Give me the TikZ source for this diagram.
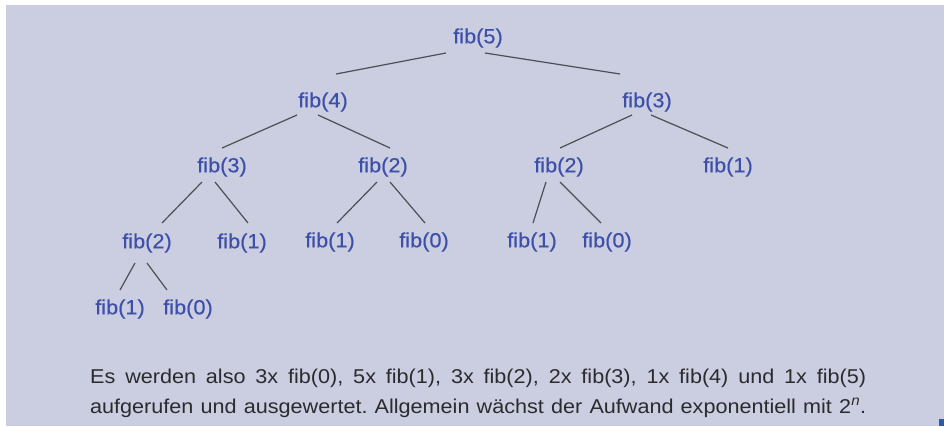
\documentclass[tikz,border=0pt]{standalone}
\usepackage{fontspec}
\setmainfont{Liberation Sans}
\newfontfamily\treefont[FakeStretch=1.06,FakeBold=0.4]{Liberation Sans}
\newfontfamily\bodyfont[FakeStretch=1.08]{Liberation Sans}
\definecolor{bgc}{HTML}{CBCEE1}
\definecolor{fibblue}{HTML}{3D4FA8}
\definecolor{edgegray}{HTML}{4E4E55}
\definecolor{bodytext}{HTML}{2B2B2E}
\definecolor{markblue}{HTML}{2E5BA8}
\begin{document}
\frenchspacing
\begin{tikzpicture}[x=1pt,y=-1pt,
  fib/.style={font=\treefont\fontsize{20.5}{23}\selectfont, text=fibblue, inner sep=0pt},
  edge/.style={draw=edgegray, line width=1.2pt},
  body/.style={font=\bodyfont\fontsize{20}{23}\selectfont, text=bodytext, inner sep=0pt, anchor=base west}]
\useasboundingbox (0,0) rectangle (944,426);
\fill[white] (0,0) rectangle (944,426);
\fill[bgc] (6,5) rectangle (944,426);
\fill[markblue] (939,419) rectangle (944,426);

% nodes
\node[fib] (n5)  at (478,38)  {fib(5)};
\node[fib] (n4)  at (323,102) {fib(4)};
\node[fib] (n3r) at (647,102) {fib(3)};
\node[fib] (n3l) at (222,167) {fib(3)};
\node[fib] (n2m) at (383,167) {fib(2)};
\node[fib] (n2r) at (559,167) {fib(2)};
\node[fib] (n1r) at (728,167) {fib(1)};
\node[fib] (n2l) at (147,243) {fib(2)};
\node[fib] (n1a) at (242,243) {fib(1)};
\node[fib] (n1b) at (330,242) {fib(1)};
\node[fib] (n0a) at (424,242) {fib(0)};
\node[fib] (n1d) at (532,242) {fib(1)};
\node[fib] (n0d) at (607,242) {fib(0)};
\node[fib] (n1c) at (120,309) {fib(1)};
\node[fib] (n0c) at (188,309) {fib(0)};

% edges
\draw[edge] ([shift={(-32,15)}]n5.center) -- ([shift={(13,-28)}]n4.center);
\draw[edge] ([shift={(7,15)}]n5.center) -- ([shift={(-27,-28)}]n3r.center);
\draw[edge] ([shift={(-26,13)}]n4.center) -- ([shift={(0,-19)}]n3l.center);
\draw[edge] ([shift={(-5,13)}]n4.center) -- ([shift={(7,-19)}]n2m.center);
\draw[edge] ([shift={(-15,13)}]n3r.center) -- ([shift={(1,-19)}]n2r.center);
\draw[edge] ([shift={(4,13)}]n3r.center) -- ([shift={(0,-19)}]n1r.center);
\draw[edge] ([shift={(-20,15)}]n3l.center) -- ([shift={(15,-20)}]n2l.center);
\draw[edge] ([shift={(-7,15)}]n3l.center) -- ([shift={(6,-20)}]n1a.center);
\draw[edge] ([shift={(-6,15)}]n2m.center) -- ([shift={(7,-19)}]n1b.center);
\draw[edge] ([shift={(7,15)}]n2m.center) -- ([shift={(1,-19)}]n0a.center);
\draw[edge] ([shift={(-13,15)}]n2r.center) -- ([shift={(1,-19)}]n1d.center);
\draw[edge] ([shift={(1,15)}]n2r.center) -- ([shift={(-6,-19)}]n0d.center);
\draw[edge] ([shift={(-12,20)}]n2l.center) -- ([shift={(0,-19)}]n1c.center);
\draw[edge] ([shift={(0,20)}]n2l.center) -- ([shift={(-21,-19)}]n0c.center);

% caption
\node[body] (t1) at (90,383) {\makebox[776pt][s]{Es werden also 3x fib(0), 5x fib(1), 3x fib(2), 2x fib(3), 1x fib(4) und 1x fib(5)}};
\node[body] (t2) at (90,413) {\makebox[776pt][s]{aufgerufen und ausgewertet. Allgemein wächst der Aufwand exponentiell mit 2\textsuperscript{\itshape n}.}};
\end{tikzpicture}
\end{document}
